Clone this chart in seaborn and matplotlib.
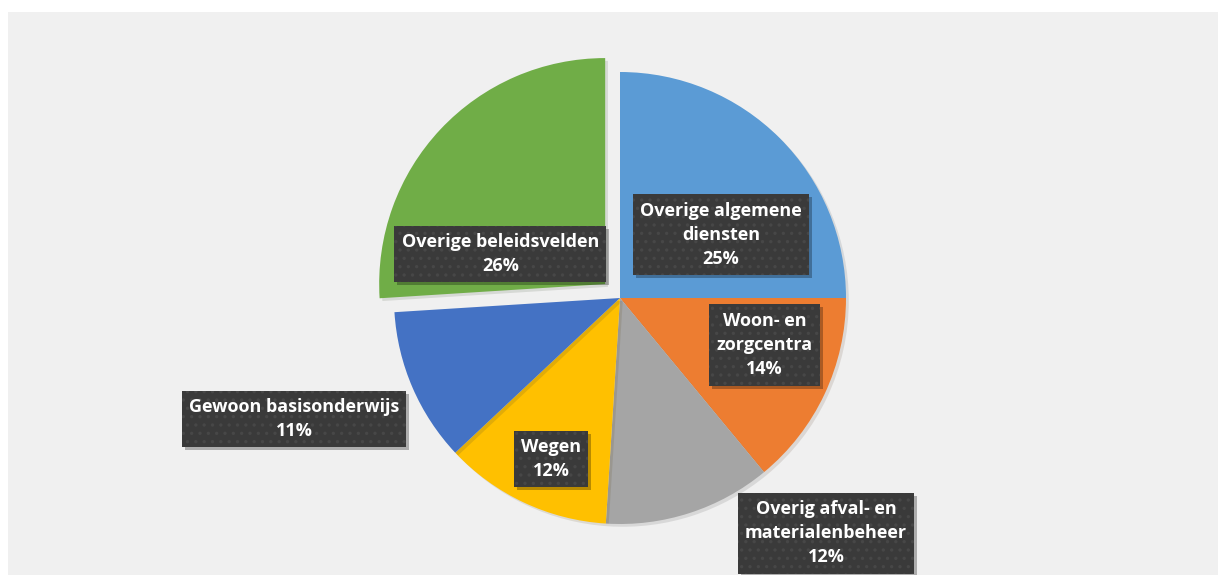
import matplotlib
matplotlib.use("Agg")
import matplotlib.pyplot as plt
import matplotlib.patheffects as pe
from matplotlib.patches import Rectangle
from matplotlib.transforms import IdentityTransform
import seaborn as sns

categories = [
    "Overige algemene\ndiensten",
    "Woon- en\nzorgcentra",
    "Overig afval- en\nmaterialenbeheer",
    "Wegen",
    "Gewoon basisonderwijs",
    "Overige beleidsvelden",
]
shares = [25, 14, 12, 12, 11, 26]
colors = ["#5B9BD5", "#ED7D31", "#A5A5A5", "#FFC000", "#4472C4", "#70AD47"]
explode = [0, 0, 0, 0, 0, 0.09]

# label centres in pie-radius units (Excel "best fit" placement)
label_pos = [(0.447, 0.279), (0.64, -0.208), (0.912, -1.04),
             (-0.305, -0.712), (-1.442, -0.535), (-0.53, 0.195)]

sns.set_theme(style="white")
plt.rcParams["font.family"] = ["Open Sans", "DejaVu Sans"]
plt.rcParams["hatch.linewidth"] = 1.2

W, H = 1218, 575
R = 226.0          # pie radius in px
CX, CY = 620, 298  # pie centre (px from left / top)
L, T = 8, 12       # white margin left / top

fig = plt.figure(figsize=(W / 100, H / 100), dpi=100, facecolor="white")
ax = fig.add_axes([L / W, 0, (W - L) / W, (H - T) / H])

wedges, _ = ax.pie(shares, colors=colors, explode=explode, startangle=90,
                   counterclock=False, radius=1.0, center=(0, 0),
                   wedgeprops=dict(linewidth=0))
for w in wedges:
    w.set_path_effects([pe.SimplePatchShadow(offset=(2, -2), alpha=0.12),
                        pe.Normal()])

ax.set_frame_on(True)
ax.set_facecolor("#F0F0F0")
ax.set_aspect("auto")
ax.set_xlim(-(CX - L) / R, (W - CX) / R)
ax.set_ylim(-(H - CY) / R, (CY - T) / R)
ax.set_xticks([])
ax.set_yticks([])
for s in ax.spines.values():
    s.set_visible(False)

labels = []
for name, val, (lx, ly) in zip(categories, shares, label_pos):
    t = ax.text(lx, ly, f"{name}\n{val}%", ha="center", va="center",
                color="white", fontsize=13, fontweight="bold",
                linespacing=1.45, zorder=5,
                bbox=dict(boxstyle="square,pad=0.4", facecolor="#3A3A3A",
                          edgecolor="#474747", linewidth=0, hatch=".."))
    labels.append(t)

# drop shadows behind the label boxes
fig.canvas.draw()
renderer = fig.canvas.get_renderer()
for t in labels:
    bb = t.get_bbox_patch().get_window_extent(renderer)
    ax.add_artist(Rectangle((bb.x0 + 3, bb.y0 - 3), bb.width, bb.height,
                            transform=IdentityTransform(), facecolor="black",
                            alpha=0.28, linewidth=0, zorder=4))

fig.savefig("out.png", dpi=100, facecolor=fig.get_facecolor())
plt.close(fig)
